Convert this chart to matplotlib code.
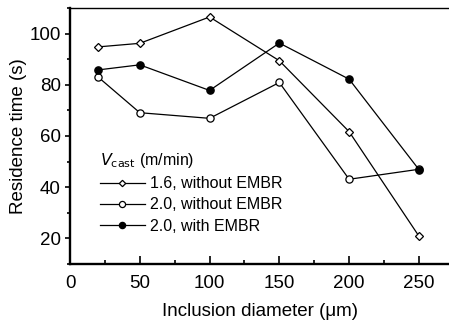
import matplotlib
matplotlib.use("Agg")
import matplotlib.pyplot as plt
from matplotlib.ticker import MultipleLocator

plt.rcParams['font.family'] = ['Liberation Sans', 'DejaVu Sans']

diameter = [20, 50, 100, 150, 200, 250]
v16_without = [94.8, 96.2, 106.5, 89.4, 61.7, 20.9]
v20_without = [83.1, 69.1, 66.9, 80.9, 43.1, 47.0]
v20_with = [85.8, 87.8, 77.8, 96.3, 82.2, 46.9]
labels = ["1.6, without EMBR", "2.0, without EMBR", "2.0, with EMBR"]


def make_graph():
    fig = plt.figure(figsize=(4.49, 3.22), dpi=100)
    ax = fig.add_axes([70 / 449, 58 / 322, 381 / 449, 256 / 322])
    ax.plot(diameter, v16_without, color='black', lw=0.9, marker='D', ms=3.8,
            mfc='white', mec='black', mew=0.9, label=labels[0])
    ax.plot(diameter, v20_without, color='black', lw=0.9, marker='o', ms=5.2,
            mfc='white', mec='black', mew=0.9, label=labels[1])
    ax.plot(diameter, v20_with, color='black', lw=0.9, marker='o', ms=5.2,
            mfc='black', mec='black', label=labels[2])

    ax.set_xlim(0, 273)
    ax.set_ylim(10, 110)
    ax.xaxis.set_major_locator(MultipleLocator(50))
    ax.xaxis.set_minor_locator(MultipleLocator(25))
    ax.yaxis.set_major_locator(MultipleLocator(20))
    ax.yaxis.set_minor_locator(MultipleLocator(10))
    ax.tick_params(which='both', labelsize=13.5, width=1.2)
    ax.tick_params(axis='x', which='major', direction='in', length=5.5, pad=8)
    ax.tick_params(axis='x', which='minor', direction='in', length=3)
    ax.tick_params(axis='y', which='major', direction='out', length=3.5, pad=3)
    ax.tick_params(axis='y', which='minor', direction='out', length=2.5)
    ax.spines['left'].set_linewidth(1.7)
    ax.spines['bottom'].set_linewidth(1.7)
    ax.spines['top'].set_linewidth(1.0)
    ax.spines['right'].set_visible(False)
    ax.set_xlabel("Inclusion diameter (\u03bcm)", fontsize=13.5, labelpad=8)
    ax.set_ylabel("Residence time (s)", fontsize=13.5, labelpad=2)

    leg = ax.legend(loc='upper left', bbox_to_anchor=(0.079, 0.44),
                    title="$V_{\\mathrm{cast}}$ (m/min)", frameon=False,
                    fontsize=11.5, title_fontsize=11.5, handlelength=2.8,
                    handletextpad=0.3, labelspacing=0.38, borderpad=0,
                    borderaxespad=0, markerscale=0.85)
    leg._legend_box.align = 'left'
    fig.savefig("out.png", dpi=100)


if __name__ == "__main__":
    make_graph()
